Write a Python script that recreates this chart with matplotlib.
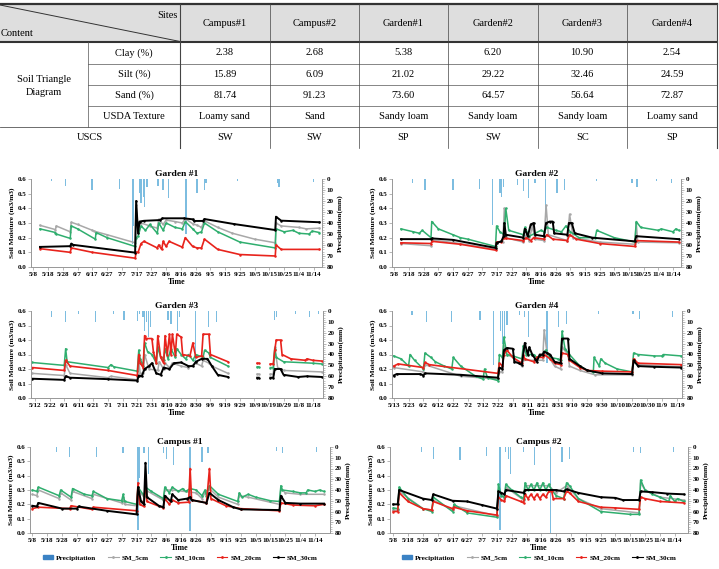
import numpy as np
import matplotlib
matplotlib.use('Agg')
import matplotlib.pyplot as plt
from matplotlib.patches import Patch
from matplotlib.lines import Line2D

plt.rcParams['font.family'] = ['Liberation Serif', 'DejaVu Serif']

nan = np.nan
# ---------------- table data ----------------
sites = ['Campus#1', 'Campus#2', 'Garden#1', 'Garden#2', 'Garden#3', 'Garden#4']
row_labels = ['Clay (%)', 'Silt (%)', 'Sand (%)', 'USDA Texture']
clay = ['2.38', '2.68', '5.38', '6.20', '10.90', '2.54']
silt = ['15.89', '6.09', '21.02', '29.22', '32.46', '24.59']
sand = ['81.74', '91.23', '73.60', '64.57', '56.64', '72.87']
usda = ['Loamy sand', 'Sand', 'Sandy loam', 'Sandy loam', 'Sandy loam', 'Loamy sand']
uscs = ['SW', 'SW', 'SP', 'SW', 'SC', 'SP']

# ---------------- tick labels ----------------
ticks_58 = ['5/8', '5/18', '5/28', '6/7', '6/17', '6/27', '7/7', '7/17', '7/27', '8/6', '8/16',
            '8/26', '9/5', '9/15', '9/25', '10/5', '10/15', '10/25', '11/4', '11/14']
ticks_512 = ['5/12', '5/22', '6/1', '6/11', '6/21', '7/1', '7/11', '7/21', '7/31', '8/10', '8/20',
             '8/30', '9/9', '9/19', '9/29', '10/9', '10/19', '10/29', '11/8', '11/18']
ticks_513 = ['5/13', '5/23', '6/2', '6/12', '6/22', '7/2', '7/12', '7/22', '8/1', '8/11', '8/21',
             '8/31', '9/10', '9/20', '9/30', '10/10', '10/20', '10/30', '11/9', '11/19']

# ---------------- soil moisture series: [day since first tick, m3/m3] ----------------
g1_sm5 = [[4.5,.284],[15,.255],[15.5,.28],[25,.24],[25.7,.305],[30,.29],[40,.25],[41,.245],[50,.22],[69,.165],[69.7,.42],[71,.26],[73,.30],[79,.28],[84,.265],[85,.325],[88,.29],[90,.32],[96,.31],[101,.30],[103,.33],[108,.295],[111,.285],[114,.27],[116,.315],[125,.27],[135,.23],[150,.19],[164,.165],[164.5,.30],[168,.28],[180,.27],[185,.26],[194,.265]]
g1_sm10 = [[4.5,.26],[15,.235],[15.5,.225],[25,.195],[25.7,.28],[30,.26],[42,.19],[42.5,.235],[50,.2],[69,.14],[69.7,.2],[71,.21],[73,.28],[76,.25],[79,.29],[84,.23],[85,.30],[88,.25],[90,.30],[96,.27],[101,.26],[103,.31],[108,.26],[111,.23],[114,.24],[116,.30],[125,.24],[140,.17],[164,.13],[164.5,.26],[170,.24],[176,.25],[180,.23],[187,.225],[189,.245],[194,.235]]
g1_sm20 = [[4.5,.125],[25,.10],[25.7,.13],[40,.10],[69,.06],[69.7,.10],[71,.10],[73,.16],[75,.175],[84,.13],[85,.15],[87,.12],[88,.175],[90,.14],[92,.175],[101,.135],[103,.20],[108,.14],[111,.13],[114,.13],[116,.19],[125,.12],[140,.085],[164,.075],[164.5,.15],[168,.12],[194,.12]]
g1_sm30 = [[4.5,.137],[25,.142],[25.7,.16],[27,.151],[69,.098],[69.7,.45],[71,.23],[72,.31],[75,.315],[86,.32],[87.5,.332],[102,.332],[108,.325],[109,.314],[115,.314],[116,.327],[136,.293],[164,.252],[164.5,.343],[168,.316],[194,.305]]

g2_sm5 = [[4.5,.16],[25,.145],[25.7,.185],[45,.16],[69,.12],[69.7,.17],[74,.17],[75,.40],[76,.20],[88,.17],[90,.22],[92,.18],[94,.28],[96,.19],[102,.18],[103.5,.42],[105,.22],[118,.18],[119.5,.36],[122,.20],[140,.17],[164,.155],[165,.30],[166,.17],[194,.165]]
g2_sm10 = [[4.5,.26],[13,.24],[17,.23],[19,.25],[25,.20],[25.5,.31],[30,.26],[40,.22],[45,.20],[50,.19],[69,.14],[69.7,.28],[72,.24],[75,.22],[76,.40],[78,.25],[88,.22],[89,.27],[92,.21],[100,.25],[102,.24],[104,.27],[110,.25],[114,.24],[117,.28],[120,.24],[126,.20],[137,.20],[138,.25],[150,.20],[164,.17],[165,.31],[168,.27],[180,.25],[182,.26],[190,.24],[192,.26],[194,.25]]
g2_sm20 = [[4.5,.165],[25,.16],[25.7,.175],[45,.155],[69,.115],[69.7,.17],[73,.17],[74.5,.20],[76,.195],[88,.18],[90,.20],[93,.18],[95,.20],[102,.19],[104,.22],[108,.19],[118,.18],[119.5,.22],[124,.19],[140,.16],[164,.14],[165,.18],[194,.17]]
g2_sm30 = [[4.5,.19],[25,.19],[25.7,.195],[40,.185],[69,.13],[69.7,.165],[73,.175],[74.5,.21],[75,.30],[76,.22],[88,.20],[89,.26],[91,.21],[93,.29],[95,.30],[96,.22],[102,.21],[103.5,.30],[106,.31],[108,.31],[109,.23],[118,.22],[119,.30],[121,.30],[123,.23],[135,.20],[164,.175],[165,.21],[194,.19]]

g3_sm5 = [[-2,.17],[20,.155],[21,.23],[24,.17],[50,.14],[52,.15],[70,.125],[71,.25],[72,.17],[74,.17],[75,.30],[78,.20],[84,.19],[85,.25],[88,.20],[89,.24],[92,.21],[94,.24],[100,.22],[105,.21],[110,.24],[114,.22],[115,.26],[119,.24],[121,.22],[132,.17],[132.5,nan],[152,.165],[153,.165],[153.5,nan],[161,.165],[163,.165],[164,.35],[166,.21],[170,.19],[196,.18]]
g3_sm10 = [[-2,.245],[20,.225],[21,.34],[22,.25],[50,.21],[52,.23],[54,.215],[70,.185],[71,.33],[72,.27],[74,.22],[75,.38],[77,.32],[80,.30],[83,.24],[84,.35],[86,.28],[88,.26],[89,.34],[91,.27],[93,.34],[96,.28],[97,.34],[100,.30],[103,.27],[105,.30],[108,.26],[110,.30],[115,.28],[116,.33],[119,.31],[120,.28],[132,.22],[132.5,nan],[152,.215],[153,.215],[153.5,nan],[161,.21],[163,.21],[164,.34],[165,.28],[170,.25],[190,.24],[196,.235]]
g3_sm20 = [[-2,.21],[20,.19],[21,.26],[24,.22],[50,.19],[70,.155],[71,.30],[72,.24],[74,.21],[75,.43],[76,.41],[80,.41],[81,.32],[83,.24],[84,.43],[86,.28],[88,.24],[89,.43],[90.5,.30],[92,.44],[93,.30],[94,.44],[96,.30],[97,.44],[100,.42],[101,.30],[106,.29],[108,.38],[110,.28],[114,.29],[115,.44],[119,.44],[120,.30],[132,.25],[132.5,nan],[152,.24],[153,.24],[153.5,nan],[161,.235],[163,.235],[164,.33],[165,.40],[168,.40],[169,.30],[175,.27],[185,.26],[186,.27],[190,.26],[196,.255]]
g3_sm30 = [[-2,.133],[20,.125],[21,.15],[24,.14],[50,.13],[70,.12],[71,.155],[73,.15],[75,.20],[78,.22],[80,.24],[83,.17],[86,.16],[88,.21],[92,.20],[95,.24],[100,.245],[105,.22],[108,.22],[110,.25],[114,.27],[118,.27],[121,.22],[125,.16],[132,.145],[132.5,nan],[152,.14],[153,.14],[153.5,nan],[161,.14],[163,.14],[164,.20],[168,.20],[170,.16],[180,.145],[186,.15],[196,.145]]

g4_sm5 = [[0,.21],[20,.18],[21,.23],[45,.15],[70,.13],[71,.18],[73,.18],[74,.36],[76,.30],[80,.28],[86,.22],[87,.26],[94,.26],[100,.26],[101,.47],[103,.30],[108,.22],[112,.20],[113,.35],[117,.30],[118,.22],[125,.19],[135,.16],[160,.16],[161,.25],[164,.23],[193,.215]]
g4_sm10 = [[0,.29],[5,.27],[10,.22],[11,.30],[14,.26],[20,.20],[21,.31],[25,.28],[28,.25],[34,.22],[39,.20],[40,.28],[45,.22],[55,.15],[60,.13],[61,.20],[63,.14],[70,.12],[71,.30],[73,.28],[74,.42],[76,.30],[80,.29],[86,.27],[87,.36],[89,.30],[94,.30],[96,.28],[100,.30],[102,.33],[105,.28],[110,.27],[112,.26],[113,.46],[115,.34],[118,.30],[125,.22],[130,.19],[134,.18],[134.5,.28],[138,.22],[139,.27],[142,.24],[150,.20],[160,.18],[161,.31],[164,.30],[175,.29],[180,.29],[181,.30],[193,.29]]
g4_sm20 = [[0,.22],[3,.235],[20,.21],[21,.245],[24,.23],[70,.17],[71,.24],[73,.22],[74,.30],[76,.33],[80,.28],[86,.24],[87,.30],[88,.27],[94,.25],[96,.28],[100,.28],[101,.30],[105,.27],[108,.24],[112,.23],[113,.31],[117,.30],[118,.26],[125,.21],[130,.19],[140,.185],[160,.18],[161,.27],[164,.24],[193,.23]]
g4_sm30 = [[0,.155],[2,.165],[18,.165],[20,.155],[21,.17],[45,.16],[70,.14],[71,.21],[73,.20],[74,.33],[76,.345],[80,.34],[81,.25],[84,.24],[86,.23],[88,.38],[90,.30],[91,.35],[93,.30],[95,.27],[96,.25],[98,.30],[100,.30],[101,.32],[103,.31],[105,.30],[108,.25],[112,.24],[113,.41],[117,.41],[118,.27],[125,.22],[130,.19],[140,.17],[160,.165],[161,.26],[164,.22],[175,.215],[193,.21]]

c1_sm5 = [[0,.27],[3,.26],[4,.30],[18,.24],[19,.28],[26,.23],[27,.29],[40,.24],[41,.27],[60,.21],[61,.25],[62,.20],[70,.19],[71,.30],[75,.25],[76,.30],[88,.23],[89,.30],[94,.30],[110,.28],[114,.24],[116,.28],[119,.31],[125,.25],[138,.20],[139,.26],[145,.25],[166,.20],[167,.31],[170,.28],[180,.27],[196,.27]]
c1_sm10 = [[0,.30],[3,.29],[4,.32],[18,.26],[19,.30],[26,.25],[27,.31],[35,.27],[40,.26],[41,.29],[50,.24],[60,.225],[61,.27],[62,.22],[70,.20],[71,.32],[75,.26],[76,.32],[80,.29],[88,.24],[89,.32],[92,.28],[94,.32],[98,.29],[101,.31],[103,.29],[106,.31],[110,.30],[114,.26],[116,.30],[117,.26],[119,.33],[125,.27],[138,.22],[139,.28],[141,.25],[145,.27],[150,.25],[160,.225],[166,.22],[167,.33],[168,.30],[175,.29],[180,.28],[184,.28],[185,.30],[190,.29],[193,.30],[196,.29]]
c1_sm20 = [[0,.17],[4,.18],[25,.17],[26,.19],[40,.165],[41,.18],[70,.155],[71,.35],[72,.20],[75,.185],[76,.38],[77,.22],[88,.175],[89,.24],[92,.20],[94,.23],[98,.21],[105,.215],[106,.45],[107,.23],[117,.21],[119,.45],[120,.24],[130,.19],[140,.17],[166,.155],[167,.21],[175,.195],[190,.19],[196,.20]]
c1_sm30 = [[0,.19],[3,.185],[4,.21],[20,.17],[30,.17],[31,.185],[50,.155],[70,.13],[71,.32],[73,.22],[75,.20],[76,.49],[77,.25],[85,.19],[88,.18],[89,.26],[93,.22],[94,.27],[98,.23],[104,.24],[106,.25],[107,.23],[117,.21],[119,.28],[125,.23],[135,.18],[140,.165],[166,.16],[167,.26],[170,.21],[180,.205],[196,.205]]

c2_sm5 = [[0,.16],[3,.16],[4,.29],[20,.17],[26,.16],[27,.23],[40,.16],[41,.19],[70,.12],[71,.30],[75,.24],[76,.32],[88,.23],[89,.33],[105,.33],[110,.28],[117,.33],[125,.24],[140,.17],[166,.14],[167,.35],[170,.30],[180,.25],[196,.23]]
c2_sm10 = [[0,.175],[3,.17],[4,.32],[10,.24],[20,.17],[26,.15],[27,.25],[40,.15],[41,.20],[50,.14],[70,.11],[71,.34],[73,.26],[75,.25],[76,.34],[80,.30],[86,.25],[88,.24],[89,.35],[91,.30],[93,.34],[95,.30],[97,.35],[99,.30],[101,.35],[103,.30],[105,.34],[107,.30],[110,.26],[115,.24],[117,.35],[119,.33],[125,.24],[140,.15],[160,.13],[166,.13],[167,.37],[170,.30],[175,.27],[180,.25],[186,.22],[187,.26],[190,.22],[192,.24],[196,.22]]
c2_sm20 = [[0,.15],[3,.15],[4,.28],[10,.22],[20,.17],[26,.16],[27,.22],[40,.17],[41,.18],[50,.155],[70,.125],[71,.25],[73,.23],[75,.22],[76,.26],[86,.22],[88,.21],[89,.27],[91,.24],[93,.27],[95,.24],[97,.27],[99,.24],[101,.27],[103,.25],[105,.29],[107,.29],[108,.24],[115,.24],[117,.29],[119,.28],[125,.22],[140,.18],[150,.175],[166,.165],[167,.25],[170,.24],[180,.22],[196,.21]]
c2_sm30 = [[0,.20],[3,.20],[4,.30],[20,.24],[26,.23],[27,.27],[40,.225],[50,.22],[60,.195],[70,.17],[71,.29],[73,.28],[75,.27],[76,.30],[88,.28],[89,.30],[110,.30],[115,.29],[117,.305],[125,.28],[140,.25],[150,.245],[155,.23],[166,.23],[167,.29],[175,.285],[185,.275],[196,.27]]

# ---------------- precipitation: [day since first tick, mm] ----------------
g1_rain = [[12.5,2],[21.6,6],[39.8,10],[58.4,9],[67,59],[68,43],[72,13],[73,22],[74.5,16],[75.5,25],[77,7],[84.5,6],[88,10],[91.6,17],[103.4,50],[111,13],[116,10],[117,4],[138.6,2],[165.5,4],[166.6,7],[190,3]]
g2_rain = [[12.5,4],[21,10],[40,10],[58,9],[67,42],[72,13],[73,16],[74.5,7],[84,5],[88,11],[91.6,17],[96,4],[103,49],[111,13],[116,10],[138,2],[162,4],[165.5,7],[179,2],[189,4]]
g3_rain = [[11.4,5.5],[21,10],[30,3],[41.5,10],[53.6,3],[61,8],[70,9],[71.5,3],[74,5.5],[75,18],[76.5,10],[77.6,24],[79,15],[91,8.6],[93,12],[97.5,18],[99,5.5],[109.6,48],[118.7,15],[124,10],[164,8],[165,5.5],[178,3],[188,5.5],[194,2.5]]
g4_rain = [[12.3,4],[22,10],[39,10],[58,8.6],[67,50],[71.6,18],[73,30],[74.5,27],[76,13],[84.6,4],[87.7,5.5],[90.6,24],[103,48],[110.7,15],[116,12],[137.6,2.5],[160.6,3],[165,7],[187,5.5]]
c1_rain = [[16,5],[25,9],[43,9],[61,6],[71,77],[72,29],[75,6],[78,25],[88,6],[90,11],[95,17],[106,78],[114,14],[118,6],[164,4],[168,6],[191,5]]
c2_rain = [[19,5],[27,11],[45,12],[63,8],[72,77],[76,5],[78,11],[79,25],[88,5],[95.5,17],[106,80],[114,14],[119,11],[162,5],[167,6],[189,5]]

# ---------------- styling ----------------
W, H = 719, 569
C5, C10, C20, C30 = '#a8a8a8', '#2fae6e', '#e8231c', '#000000'
BLUE = '#7dbde0'
AXC = '#9a9a9a'

fig = plt.figure(figsize=(W / 100, H / 100), dpi=100)


def rect(l, r, t, b):
    return [l / W, 1 - b / H, (r - l) / W, (b - t) / H]


def panel(box, title, ticks, xlim, sm5, sm10, sm20, sm30, rain, legend=False):
    ax = fig.add_axes(rect(*box))
    ax2 = ax.twinx()
    rd, rv = zip(*rain)
    ax2.bar(rd, rv, width=0.9, color=BLUE, linewidth=0)
    ax2.set_ylim(80, 0)
    ax2.set_yticks(np.arange(0, 81, 10))
    ax2.set_yticks(np.arange(0, 81, 2), minor=True)
    ax.set_zorder(ax2.get_zorder() + 1)
    ax.patch.set_visible(False)
    for data, c, lw in [(sm5, C5, 1.1), (sm10, C10, 1.1), (sm20, C20, 1.2), (sm30, C30, 1.4)]:
        d, v = zip(*data)
        ax.plot(d, v, color=c, lw=lw, marker='.', ms=1.6)
    ax.set_ylim(0, 0.6)
    ax.set_yticks(np.arange(0, 0.61, 0.1))
    ax.set_yticklabels([f'{t:.1f}' for t in np.arange(0, 0.61, 0.1)])
    ax.set_xlim(*xlim)
    ax.set_xticks(np.arange(len(ticks)) * 10)
    ax.set_xticklabels(ticks)
    for a in (ax, ax2):
        for s in a.spines.values():
            s.set_color(AXC)
            s.set_linewidth(0.7)
        a.spines['top'].set_visible(False)
        a.tick_params(labelsize=5.0, width=0.5, length=2, color=AXC, pad=1.5)
        for lab in a.get_xticklabels() + a.get_yticklabels():
            lab.set_fontweight('bold')
    ax2.tick_params(which='minor', length=1.2, width=0.4, color=AXC)
    ax.set_title(title, fontsize=6.8, fontweight='bold', pad=2)
    ax.set_xlabel('Time', fontsize=5.8, fontweight='bold', labelpad=1)
    ax.set_ylabel('Soil Moisture (m3/m3)', fontsize=5.3, fontweight='bold', labelpad=2)
    ax2.set_ylabel('Precipitation(mm)', fontsize=5.3, fontweight='bold', labelpad=2)
    if legend:
        handles = [Patch(color='#3b82c4', label='Precipitation'),
                   Line2D([], [], color=C5, lw=0.8, marker='.', ms=2, label='SM_5cm'),
                   Line2D([], [], color=C10, lw=0.8, marker='.', ms=2, label='SM_10cm'),
                   Line2D([], [], color=C20, lw=0.8, marker='.', ms=2, label='SM_20cm'),
                   Line2D([], [], color=C30, lw=0.8, marker='.', ms=2, label='SM_30cm')]
        leg = ax.legend(handles=handles, loc='center', bbox_to_anchor=(0.5, -0.29), ncol=5,
                        frameon=False, fontsize=5.2, handlelength=1.5, handleheight=0.5,
                        columnspacing=1.6, handletextpad=0.4)
        for t in leg.get_texts():
            t.set_fontweight('bold')
    return ax


panel((31, 322, 179, 267), 'Garden #1', ticks_58, (-1.6, 195.7), g1_sm5, g1_sm10, g1_sm20, g1_sm30, g1_rain)
panel((392, 681, 179, 267), 'Garden #2', ticks_58, (-1.6, 195.5), g2_sm5, g2_sm10, g2_sm20, g2_sm30, g2_rain)
panel((31, 323, 311, 398), 'Garden #3', ticks_512, (-2.7, 197), g3_sm5, g3_sm10, g3_sm20, g3_sm30, g3_rain)
panel((392, 682, 311, 398), 'Garden #4', ticks_513, (-1.1, 193.5), g4_sm5, g4_sm10, g4_sm20, g4_sm30, g4_rain)
panel((30, 330, 447, 533), 'Campus #1', ticks_58, (-1.6, 200), c1_sm5, c1_sm10, c1_sm20, c1_sm30, c1_rain, legend=True)
panel((390, 688, 447, 533), 'Campus #2', ticks_58, (-2.2, 199), c2_sm5, c2_sm10, c2_sm20, c2_sm30, c2_rain, legend=True)

# ---------------- table ----------------
tb = fig.add_axes([0, 0, 1, 1])
tb.set_xlim(0, W)
tb.set_ylim(H, 0)
tb.axis('off')
tb.set_zorder(-5)
col_edges = [0, 88, 180, 269.5, 359, 448, 537.5, 627, 717]
row_edges = [4, 42, 63.5, 85, 106, 127, 148]
FS = 7.5
tb.fill_between([0, 717], 4, 42, color='#dedede', lw=0)
tb.plot([0, 717], [4, 4], color='#333333', lw=1.6)
tb.plot([0, 717], [42, 42], color='#333333', lw=1.5)
tb.plot([0, 180], [5, 41.5], color='#333333', lw=0.7)
for y in row_edges[2:5]:
    tb.plot([88, 717], [y, y], color='#555555', lw=0.5)
tb.plot([0, 717], [127, 127], color='#555555', lw=0.6)
tb.plot([88, 88], [42, 127], color='#555555', lw=0.5)
for x in col_edges[2:]:
    tb.plot([x, x], [4, 148], color='#444444', lw=0.8 if x in (180, 717) else 0.5)
tb.text(178, 15, 'Sites', ha='right', va='center', fontsize=FS)
tb.text(1, 33, 'Content', ha='left', va='center', fontsize=FS)
tb.text(44, 86, 'Soil Triangle\nDiagram', ha='center', va='center', fontsize=FS, linespacing=1.5)
tb.text(90, 137.5, 'USCS', ha='center', va='center', fontsize=FS)
for i, lab in enumerate(row_labels):
    tb.text(134, (row_edges[i + 1] + row_edges[i + 2]) / 2, lab, ha='center', va='center', fontsize=FS)
for j, s in enumerate(sites):
    xc = (col_edges[j + 2] + col_edges[j + 3]) / 2
    tb.text(xc, 23, s, ha='center', va='center', fontsize=FS)
    for i, col in enumerate([clay, silt, sand, usda, uscs]):
        tb.text(xc, (row_edges[i + 1] + row_edges[i + 2]) / 2, col[j], ha='center', va='center', fontsize=FS)

fig.savefig('out.png', dpi=100)
